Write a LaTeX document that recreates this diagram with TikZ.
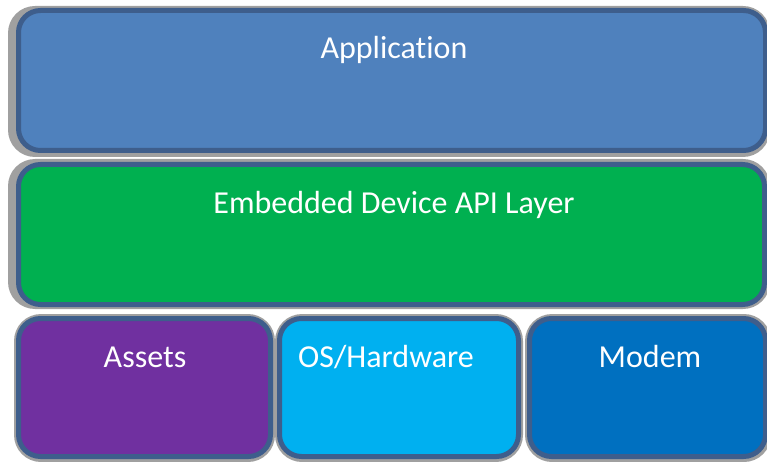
\documentclass[tikz,border=0pt]{standalone}
\usepackage{fontspec}
\setmainfont{Carlito}[Ligatures={NoCommon}]
\definecolor{appblue}{HTML}{4F81BD}
\definecolor{apigreen}{HTML}{00B050}
\definecolor{assetpurple}{HTML}{7030A0}
\definecolor{oscyan}{HTML}{00B0F0}
\definecolor{modemblue}{HTML}{0070C0}
\definecolor{edgeblue}{HTML}{3E5E8C}
\definecolor{shadowgray}{HTML}{A0A0A0}
\tikzset{
  shadowbox/.style={rectangle, rounded corners=27pt, fill=shadowgray, inner sep=0pt, outer sep=0pt},
  layerbox/.style={rectangle, rounded corners=22pt, draw=edgeblue, line width=5pt, inner sep=0pt, outer sep=0pt},
  layertext/.style={text=white, font=\fontsize{32}{38}\selectfont, inner sep=0pt, anchor=base}
}
% place a box from its outer edges: #1 name, #2 fill, #3 left, #4 top, #5 right, #6 bottom
\newcommand{\layerat}[6]{%
  \node[layerbox, fill=#2, minimum width={#5-#3-5pt}, minimum height={#6-#4-5pt}]
    (#1) at ({(#3+#5)/2}, {(#4+#6)/2}) {};}
\newcommand{\shadowat}[5]{%
  \node[shadowbox, minimum width={#4-#2}, minimum height={#5-#3}]
    (#1) at ({(#2+#4)/2}, {(#3+#5)/2}) {};}
\begin{document}
\begin{tikzpicture}[x=1pt, y=-1pt]
\useasboundingbox (0,0) rectangle (767,462);
% application layer
\shadowat{appshadow}{8}{6}{770}{157}
\layerat{app}{appblue}{16}{8}{768}{153}
\node[layertext] (apptext) at (394,59) {Application};
% device API layer
\shadowat{apishadow}{8}{159}{770}{309}
\layerat{api}{apigreen}{16}{162}{767}{307}
\node[layertext] (apitext) at (394,214) {Embedded Device API Layer};
% lower row
\shadowat{assetshadow}{14}{314}{275}{462}
\layerat{assets}{assetpurple}{16}{316}{273}{459}
\node[layertext] (assetstext) at (145,367) {Assets};
\shadowat{osshadow}{275}{314}{523}{462}
\layerat{os}{oscyan}{277}{316}{521}{459}
\node[layertext] (ostext) at (386,367) {OS/Hardware};
\shadowat{modemshadow}{525}{314}{771}{462}
\layerat{modem}{modemblue}{527}{316}{768}{459}
\node[layertext] (modemtext) at (650,367) {Modem};
\end{tikzpicture}
\end{document}
